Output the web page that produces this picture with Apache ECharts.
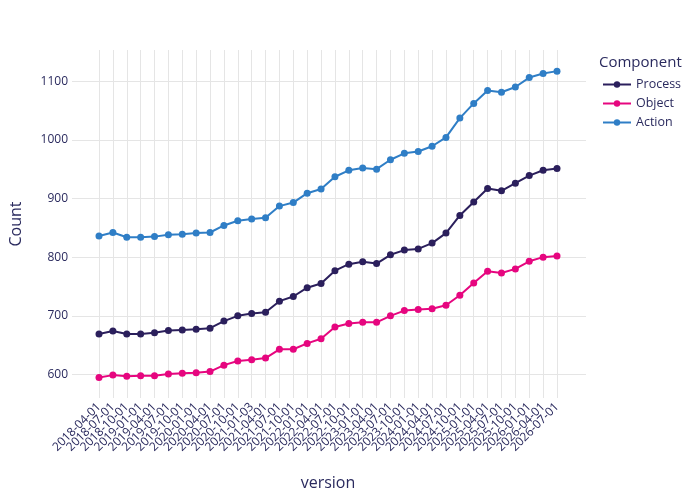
<!DOCTYPE html>
<html>
<head>
<meta charset="utf-8">
<title>Component counts by version</title>
<script src="https://cdn.jsdelivr.net/npm/echarts@6/dist/echarts.min.js"></script>
<style>
    html, body { margin: 0; padding: 0; background: #fff; }
    #chart_show { width: 700px; height: 500px; }
</style>
</head>
<body>
<div id="chart_show"></div>
<script>
// quarterly versions (x axis)
var versions = [
    '2018-04-01', '2018-07-01', '2018-10-01',
    '2019-01-01', '2019-04-01', '2019-07-01', '2019-10-01',
    '2020-01-01', '2020-04-01', '2020-07-01', '2020-10-01',
    '2021-01-03', '2021-04-01', '2021-07-01', '2021-10-01',
    '2022-01-01', '2022-04-01', '2022-07-01', '2022-10-01',
    '2023-01-01', '2023-04-01', '2023-07-01', '2023-10-01',
    '2024-01-01', '2024-04-01', '2024-07-01', '2024-10-01',
    '2025-01-01', '2025-04-01', '2025-07-01', '2025-10-01',
    '2026-01-01', '2026-04-01', '2026-07-01'
];

// counts per component
var processCounts = [
    669, 674, 669, 669, 671, 675, 676, 677, 679, 691, 700,
    704, 706, 725, 733, 748, 755, 777, 788, 792, 789, 804,
    812, 814, 824, 841, 871, 894, 917, 913, 926, 939, 948, 951
];
var objectCounts = [
    595, 599, 597, 598, 598, 601, 602, 603, 605, 616, 623,
    625, 628, 643, 643, 653, 661, 681, 687, 689, 689, 700,
    709, 711, 712, 718, 735, 756, 776, 773, 780, 793, 800, 802
];
var actionCounts = [
    836, 842, 834, 834, 835, 838, 839, 841, 842, 854, 862,
    865, 867, 887, 893, 909, 916, 937, 948, 952, 950, 966,
    977, 980, 989, 1004, 1037, 1062, 1084, 1081, 1090, 1106, 1113, 1117
];

var componentNames = ['Process', 'Object', 'Action'];
var componentColors = ['#2b1f5c', '#e6067f', '#2f7ec6'];

var yMin = 560;
var yMax = 1153;

(function () {
    var textColor = '#2a2a5e';
    var gridColor = '#e5e5e5';
    var fontFamily = '"Open Sans", verdana, arial, sans-serif';
    var myChart = echarts.init(document.getElementById('chart_show'));

    function makeSeries(name, data, color) {
        return {
            name: name,
            type: 'line',
            xAxisIndex: 1,
            yAxisIndex: 1,
            data: data,
            symbol: 'circle',
            symbolSize: 7,
            showAllSymbol: true,
            itemStyle: { color: color },
            lineStyle: { color: color, width: 2 },
            emphasis: { disabled: true }
        };
    }

    var allSeries = [
        makeSeries(componentNames[0], processCounts, componentColors[0]),
        makeSeries(componentNames[1], objectCounts, componentColors[1]),
        makeSeries(componentNames[2], actionCounts, componentColors[2])
    ];

    myChart.setOption({
        backgroundColor: '#fff',
        animation: false,
        textStyle: { fontFamily: fontFamily, color: textColor },
        title: {
            text: 'Component',
            left: 594,
            top: 50,
            textStyle: { fontSize: 15, fontWeight: 'normal', color: textColor, fontFamily: fontFamily }
        },
        legend: {
            orient: 'vertical',
            left: 597,
            top: 73,
            itemWidth: 28,
            itemHeight: 8,
            itemGap: 6,
            data: componentNames,
            textStyle: { fontSize: 12.5, color: textColor, fontFamily: fontFamily }
        },
        grid: [
            // wide grid: horizontal gridlines
            { left: 71, right: 114, top: 50, bottom: 102 },
            // inner grid: category positions
            { left: 99, right: 143, top: 50, bottom: 102 }
        ],
        xAxis: [
            { type: 'value', gridIndex: 0, min: 0, max: 1, show: false },
            {
                type: 'category',
                gridIndex: 1,
                data: versions,
                boundaryGap: false,
                name: 'version',
                nameLocation: 'middle',
                nameGap: 77,
                nameTextStyle: { fontSize: 16, color: textColor },
                axisLine: { show: false },
                axisTick: { show: false },
                axisLabel: {
                    interval: 0,
                    rotate: 45,
                    margin: 7,
                    fontSize: 12,
                    color: textColor
                },
                splitLine: { show: true, lineStyle: { color: gridColor, width: 1 } }
            }
        ],
        yAxis: [
            {
                type: 'value',
                gridIndex: 0,
                min: yMin,
                max: yMax,
                name: 'Count',
                nameLocation: 'middle',
                nameRotate: 90,
                nameGap: 48,
                nameTextStyle: { fontSize: 16, color: textColor },
                axisLine: { show: false },
                axisTick: { show: false },
                axisLabel: {
                    margin: 4,
                    fontSize: 12,
                    color: textColor,
                    showMinLabel: false,
                    showMaxLabel: false,
                    formatter: function (v) { return String(v); }
                },
                splitLine: {
                    show: true,
                    showMinLine: false,
                    showMaxLine: false,
                    lineStyle: { color: gridColor, width: 1 }
                }
            },
            { type: 'value', gridIndex: 1, min: yMin, max: yMax, show: false }
        ],
        series: allSeries
    });
})();
</script>
</body>
</html>
